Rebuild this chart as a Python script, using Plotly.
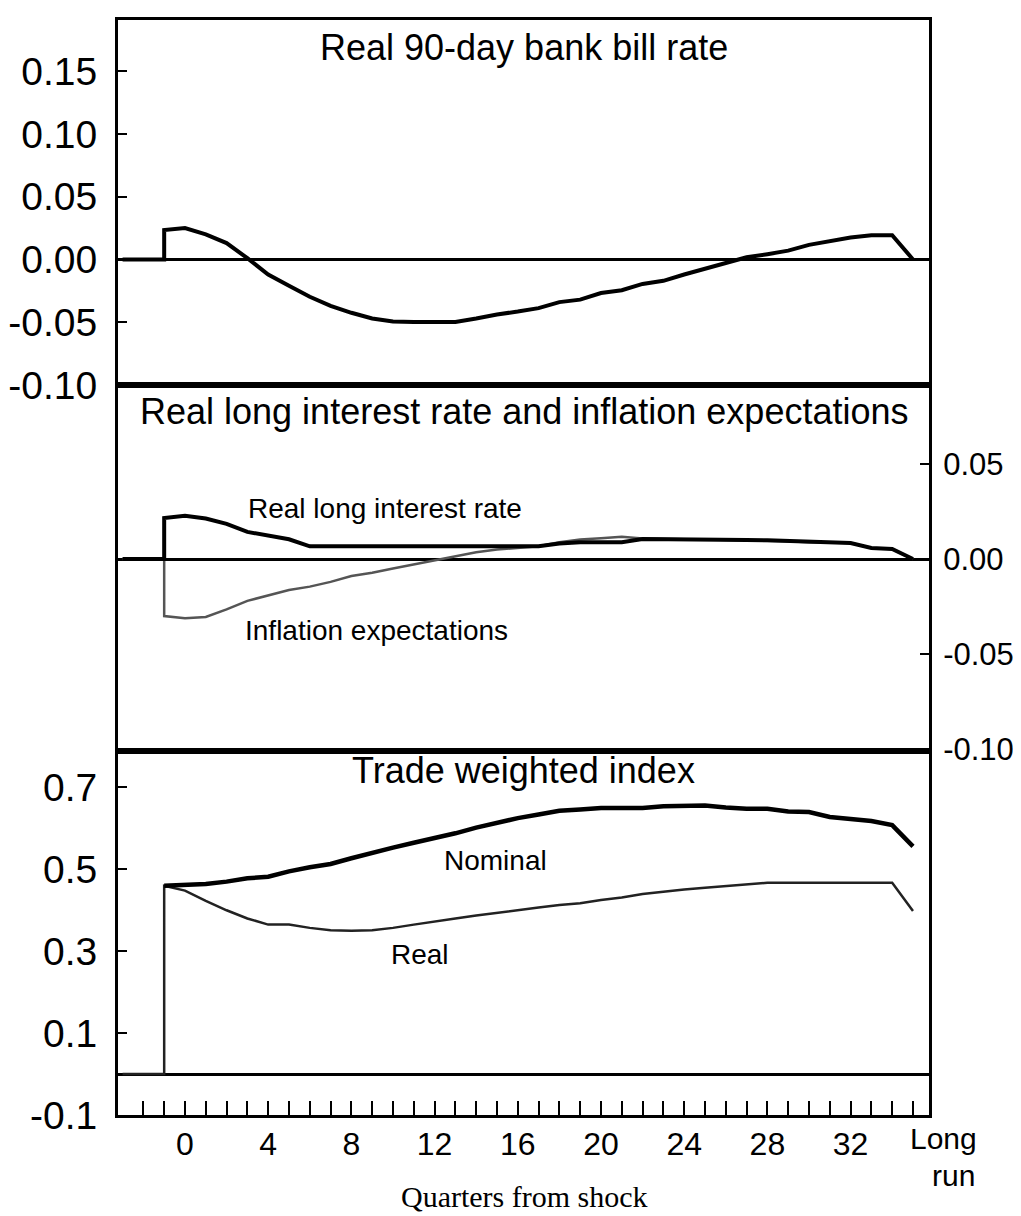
import plotly.graph_objects as go

# ---------------- data ----------------
pre_quarters = [-3, -2, -1]
pre_values = [0.0, 0.0, 0.0]
quarters = list(range(-1, 36))          # -1 .. 35 ; 35 = long run

bill_rate = [0.0234, 0.025, 0.020, 0.013, 0.001, -0.012, -0.021, -0.0297, -0.037,
             -0.0425, -0.047, -0.0495, -0.0498, -0.0498, -0.0498, -0.047, -0.0438,
             -0.0415, -0.0388, -0.034, -0.032, -0.0267, -0.0245, -0.0195, -0.017,
             -0.012, -0.0076, -0.0027, 0.0017, 0.0042, 0.007, 0.0116, 0.0146,
             0.0174, 0.0193, 0.0193, 0.0]

real_long = [0.0216, 0.0228, 0.0213, 0.0185, 0.0143, 0.0123, 0.0104, 0.0067,
             0.0067, 0.0067, 0.0067, 0.0067, 0.0067, 0.0067, 0.0067, 0.0067, 0.0067,
             0.0067, 0.0068, 0.0082, 0.0089, 0.0089, 0.0089, 0.0105, 0.0105, 0.0104,
             0.0103, 0.0101, 0.0100, 0.0099, 0.0094, 0.0089, 0.0087, 0.0084, 0.0058,
             0.0053, 0.0]

infl_exp = [-0.030, -0.0312, -0.0305, -0.0265, -0.022, -0.019, -0.0163, -0.0145,
            -0.012, -0.0089, -0.0072, -0.005, -0.0028, -0.0005, 0.0017, 0.0036,
            0.0050, 0.0058, 0.0067, 0.0088, 0.0103, 0.011, 0.0118, 0.0108, 0.0105,
            0.0104, 0.0103, 0.0101, 0.0100, 0.0099, 0.0094, 0.0089, 0.0087, 0.0084,
            0.0058, 0.0053, 0.0]

twi_nominal = [0.46, 0.461, 0.464, 0.470, 0.478, 0.482, 0.495, 0.505, 0.513, 0.527,
               0.541, 0.553, 0.565, 0.576, 0.588, 0.602, 0.614, 0.625, 0.634, 0.643,
               0.646, 0.650, 0.650, 0.650, 0.654, 0.656, 0.656, 0.651, 0.648, 0.648,
               0.641, 0.640, 0.628, 0.623, 0.618, 0.608, 0.556]

twi_real = [0.46, 0.448, 0.423, 0.40, 0.38, 0.365, 0.365, 0.357, 0.351, 0.350, 0.351,
            0.357, 0.365, 0.373, 0.38, 0.387, 0.394, 0.401, 0.407, 0.413, 0.417,
            0.425, 0.431, 0.440, 0.446, 0.451, 0.455, 0.459, 0.464, 0.467, 0.467,
            0.467, 0.467, 0.467, 0.467, 0.467, 0.398]

x_tick_quarters = list(range(-2, 36))
x_label_quarters = [0, 4, 8, 12, 16, 20, 24, 28, 32]

p1_ticks = [-0.10, -0.05, 0.00, 0.05, 0.10, 0.15]
p1_labels = ["-0.10", "-0.05", "0.00", "0.05", "0.10", "0.15"]
p2_ticks = [-0.10, -0.05, 0.00, 0.05]
p2_labels = ["-0.10", "-0.05", "0.00", "0.05"]
p3_ticks = [-0.1, 0.1, 0.3, 0.5, 0.7]
p3_labels = ["-0.1", "0.1", "0.3", "0.5", "0.7"]

titles = ["Real 90-day bank bill rate",
          "Real long interest rate and inflation expectations",
          "Trade weighted index"]

# ---------------- figure ----------------
SANS = "Liberation Sans, Arial, Helvetica, sans-serif"
SERIF = "Liberation Serif, Times New Roman, serif"

W, H = 1021, 1216
L, R, T, B = 110, 100, 12, 109
PH = H - T - B


def py(pix):
    return 1 - (pix - T) / PH


def px(pix):
    return (pix - L) / (W - L - R)


fig = go.Figure()

x_pre = pre_quarters + quarters

fig.add_trace(go.Scatter(x=x_pre, y=pre_values + bill_rate, mode="lines",
                         line=dict(color="black", width=4), xaxis="x", yaxis="y",
                         showlegend=False))

fig.add_trace(go.Scatter(x=x_pre, y=pre_values + infl_exp, mode="lines",
                         line=dict(color="#555555", width=2.5), xaxis="x2", yaxis="y2",
                         showlegend=False))
fig.add_trace(go.Scatter(x=x_pre, y=pre_values + real_long, mode="lines",
                         line=dict(color="black", width=4), xaxis="x2", yaxis="y2",
                         showlegend=False))

fig.add_trace(go.Scatter(x=x_pre, y=pre_values + twi_real, mode="lines",
                         line=dict(color="#222222", width=2.5), xaxis="x3", yaxis="y3",
                         showlegend=False))
fig.add_trace(go.Scatter(x=quarters, y=twi_nominal, mode="lines",
                         line=dict(color="black", width=4.5), xaxis="x3", yaxis="y3",
                         showlegend=False))

xrange = [-3.22, 35.77]
d2 = 1 - (377 - T) / PH
d3top = 1 - (743 - T) / PH

common_x = dict(range=xrange, showline=True, mirror=True, linecolor="black",
                linewidth=3, showgrid=False, zeroline=False, fixedrange=True,
                automargin=False)

common_y = dict(showline=True, mirror=True, linecolor="black", linewidth=3,
                showgrid=False, zeroline=True, zerolinecolor="black", zerolinewidth=3,
                ticks="inside", ticklen=9, tickwidth=2, tickcolor="black",
                automargin=False, fixedrange=True)

fig.update_layout(
    width=W, height=H,
    margin=dict(l=L, r=R, t=T, b=B, autoexpand=False),
    paper_bgcolor="white", plot_bgcolor="white",
    showlegend=False,
    xaxis=dict(common_x, anchor="y", showticklabels=False, ticks=""),
    xaxis2=dict(common_x, anchor="y2", showticklabels=False, ticks=""),
    xaxis3=dict(common_x, anchor="y3", ticks="inside", ticklen=14, tickwidth=2,
                tickcolor="black", tickvals=x_tick_quarters,
                ticktext=[str(q) if q in x_label_quarters else "" for q in x_tick_quarters],
                tickfont=dict(family=SANS, size=32, color="black"),
                ticklabelstandoff=-1),
    yaxis=dict(common_y, domain=[d2, 1], anchor="x", range=[-0.1, 0.1907],
               tickvals=p1_ticks, ticktext=p1_labels,
               tickfont=dict(family=SANS, size=39, color="black"),
               ticklabelstandoff=10),
    yaxis2=dict(common_y, domain=[d3top, d2], anchor="x2", side="right",
                range=[-0.101, 0.0916],
                tickvals=p2_ticks, ticktext=p2_labels,
                tickfont=dict(family=SANS, size=31, color="black"),
                ticklabelstandoff=5),
    yaxis3=dict(common_y, domain=[0, d3top], anchor="x3", range=[-0.1, 0.789],
                tickvals=p3_ticks, ticktext=p3_labels,
                tickfont=dict(family=SANS, size=39, color="black"),
                ticklabelstandoff=10),
)

ann = []
for text, ypix in zip(titles, [39, 404, 762]):
    ann.append(dict(text=text, xref="paper", yref="paper", x=0.5, y=py(ypix),
                    xanchor="center", yanchor="middle", showarrow=False,
                    font=dict(family=SANS, size=36, color="black")))

ann.append(dict(text="Real long interest rate", xref="x2", yref="y2", x=9.6, y=0.0268,
                showarrow=False, font=dict(family=SANS, size=28, color="black")))
ann.append(dict(text="Inflation expectations", xref="x2", yref="y2", x=9.2, y=-0.0374,
                showarrow=False, font=dict(family=SANS, size=28, color="black")))
ann.append(dict(text="Nominal", xref="x3", yref="y3", x=14.95, y=0.522,
                showarrow=False, font=dict(family=SANS, size=28, color="black")))
ann.append(dict(text="Real", xref="x3", yref="y3", x=11.3, y=0.292,
                showarrow=False, font=dict(family=SANS, size=28, color="black")))

ann.append(dict(text="Long", xref="paper", yref="paper", x=px(971), y=py(1130),
                xanchor="right", yanchor="middle", showarrow=False,
                font=dict(family=SANS, size=30, color="black")))
ann.append(dict(text="run", xref="paper", yref="paper", x=px(969), y=py(1167),
                xanchor="right", yanchor="middle", showarrow=False,
                font=dict(family=SANS, size=30, color="black")))
ann.append(dict(text="Quarters from shock", xref="paper", yref="paper", x=px(516),
                y=py(1188), xanchor="center", yanchor="middle", showarrow=False,
                font=dict(family=SERIF, size=30, color="black")))

fig.update_layout(annotations=ann)

fig.write_html("out.html")
